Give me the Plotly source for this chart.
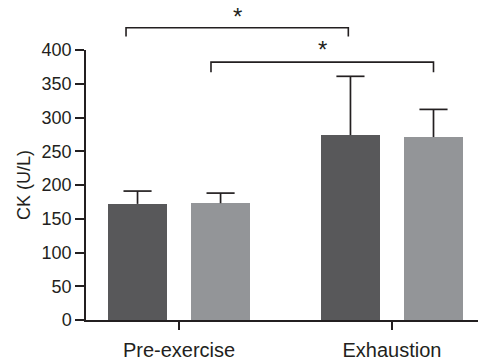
import plotly.graph_objects as go

categories = ["Pre-exercise", "Exhaustion"]
group_a = [172, 274]          # dark bars
group_a_err = [19, 87]
group_b = [173, 271]          # light bars
group_b_err = [15, 41]
yticks = [0, 50, 100, 150, 200, 250, 300, 350, 400]

x_pos = [0, 1]
offset = 0.195
bar_w = 0.28
cap_half = 0.066
xr = [-0.437, 1.404]

dark = "#58585a"
light = "#939598"
ink = "#231f20"

fig = go.Figure()
for sign, vals, errs, col in [(-1, group_a, group_a_err, dark), (1, group_b, group_b_err, light)]:
    xs = [p + sign * offset for p in x_pos]
    fig.add_trace(go.Bar(x=xs, y=vals, width=bar_w,
                         marker=dict(color=col, line=dict(width=0)), hoverinfo="skip"))
    lx, ly = [], []
    for x, v, e in zip(xs, vals, errs):
        lx += [x, x, None, x - cap_half, x + cap_half, None]
        ly += [v, v + e, None, v + e, v + e, None]
    fig.add_trace(go.Scatter(x=lx, y=ly, mode="lines", line=dict(color=ink, width=1.7),
                             hoverinfo="skip", cliponaxis=False))

def px(x):
    return (x - xr[0]) / (xr[1] - xr[0])

def py(y):
    return y / 400.0

# significance brackets (data x -> paper)
brackets = [
    (x_pos[0] - offset - 0.054, x_pos[1] - offset - 0.01, 433, 420, 1.1815),
    (x_pos[0] + offset - 0.045, x_pos[1] + offset, 382, 367, 1.059),
]
for x0, x1, ytop, yend, ystar in brackets:
    fig.add_shape(type="path", xref="paper", yref="paper",
                  path=f"M {px(x0)},{py(yend)} L {px(x0)},{py(ytop)} L {px(x1)},{py(ytop)} L {px(x1)},{py(yend)}",
                  line=dict(color=ink, width=1.6))
    fig.add_annotation(xref="paper", yref="paper", x=(px(x0) + px(x1)) / 2, y=ystar,
                       text="*", showarrow=False, font=dict(size=24, color=ink),
                       yanchor="top")

fig.update_layout(
    width=490, height=364,
    margin=dict(l=86, r=12, t=50, b=44),
    paper_bgcolor="white", plot_bgcolor="white",
    showlegend=False, bargap=0,
    font=dict(family="Liberation Sans, Arial, sans-serif", color=ink),
)
fig.update_xaxes(
    range=xr, tickmode="array", tickvals=x_pos, ticktext=categories,
    showline=True, linecolor=ink, linewidth=1.5, ticks="outside", ticklen=8,
    tickcolor=ink, tickwidth=1.5, showgrid=False, zeroline=False,
    tickfont=dict(size=20, color=ink), automargin=False, ticklabelstandoff=3,
)
fig.update_yaxes(
    range=[0, 400], tickmode="array", tickvals=yticks,
    showline=True, linecolor=ink, linewidth=1.5, ticks="outside", ticklen=9,
    tickcolor=ink, tickwidth=1.5, showgrid=False, zeroline=False,
    tickfont=dict(size=18, color=ink), automargin=False,
    title=dict(text="CK (U/L)", font=dict(size=18, color=ink), standoff=6),
)
fig.write_html("out.html", config={"displayModeBar": False},
               post_script="document.body.style.margin='0';")
